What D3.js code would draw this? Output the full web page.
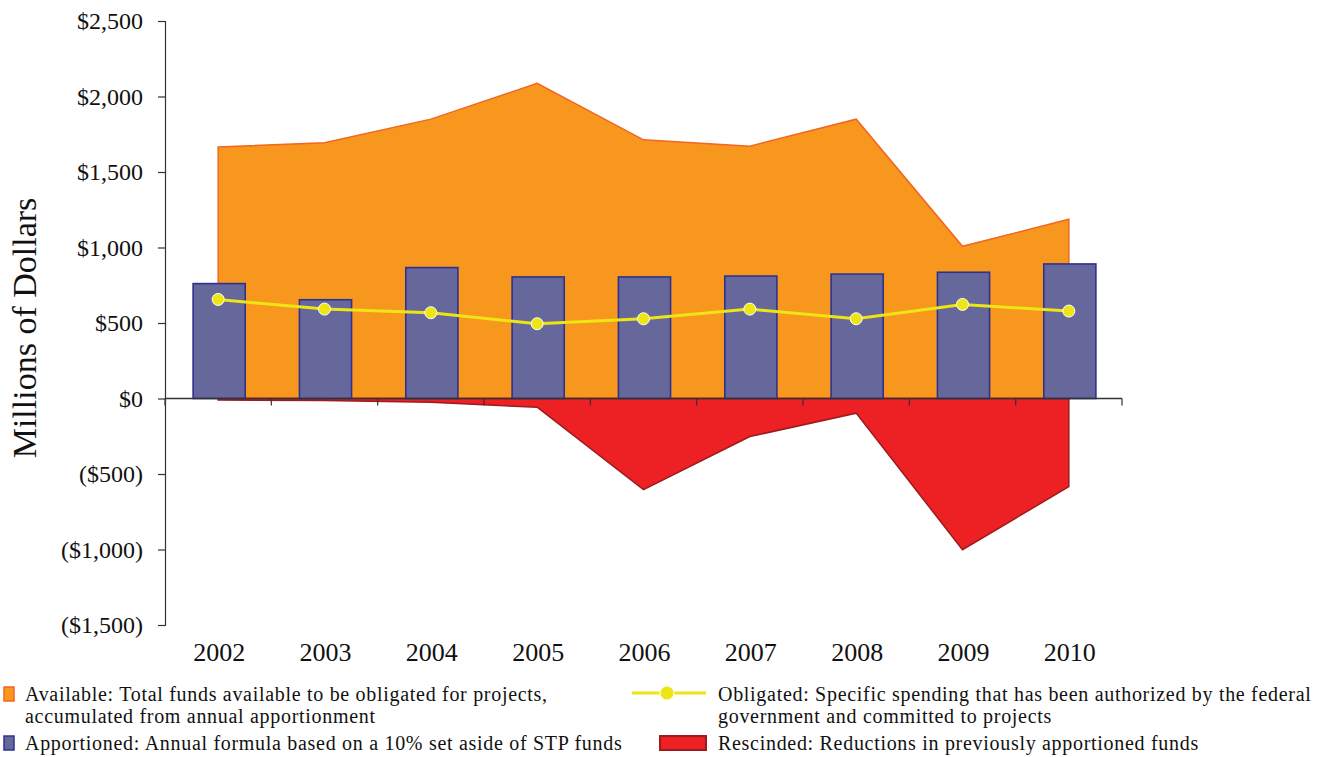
<!DOCTYPE html>
<html>
<head>
<meta charset="utf-8">
<script src="https://cdn.jsdelivr.net/npm/d3@7"></script>
<style>
  html, body { margin: 0; padding: 0; background: #fff; }
  svg { display: block; font-family: "Liberation Serif", "Times New Roman", serif; }
</style>
</head>
<body>
<svg id="chart" width="1322" height="757"></svg>
<script>
// Fiscal years on the category axis
const years = ["2002", "2003", "2004", "2005", "2006", "2007", "2008", "2009", "2010"];

// Millions of dollars per year
const available   = [1666, 1693, 1850, 2087, 1713, 1671, 1850, 1008, 1187];
const apportioned = [761, 654, 867, 805, 805, 811, 824, 836, 891];
const obligated   = [656, 592, 568, 495, 528, 592, 528, 623, 579];
const rescinded   = [-10, -14, -25, -58, -603, -252, -97, -1001, -584];

// Value axis ticks
const yTicks = [2500, 2000, 1500, 1000, 500, 0, -500, -1000, -1500];

// Legend entries
const legendItems = [
  { key: "available",   lines: ["Available: Total funds available to be obligated for projects,", "accumulated from annual apportionment"] },
  { key: "obligated",   lines: ["Obligated: Specific spending that has been authorized by the federal", "government and committed to projects"] },
  { key: "apportioned", lines: ["Apportioned: Annual formula based on a 10% set aside of STP funds"] },
  { key: "rescinded",   lines: ["Rescinded: Reductions in previously apportioned funds"] }
];

const colors = {
  available:  { fill: "#F7971E", stroke: "#F26522" },
  apportioned:{ fill: "#66689C", stroke: "#2E3192" },
  obligated:  { fill: "#EEE515", stroke: "#EEE515" },
  rescinded:  { fill: "#ED2024", stroke: "#9B1B1F" }
};

const svg = d3.select("#chart");

const plot = { left: 165, right: 1122, top: 21, bottom: 625 };

const x = d3.scaleBand().domain(years).range([plot.left, plot.right]).padding(0);
const y = d3.scaleLinear().domain([-1500, 2500]).range([plot.bottom, plot.top]);
const cx = d => x(d) + x.bandwidth() / 2;

const rows = years.map((yr, i) => ({
  year: yr,
  available: available[i],
  apportioned: apportioned[i],
  obligated: obligated[i],
  rescinded: rescinded[i]
}));

// Available funds area
const areaAvail = d3.area()
  .x(d => cx(d.year))
  .y0(y(0))
  .y1(d => y(d.available));
svg.append("path")
  .datum(rows)
  .attr("d", areaAvail)
  .attr("fill", colors.available.fill)
  .attr("stroke", colors.available.stroke)
  .attr("stroke-width", 1.5)
  .attr("stroke-linejoin", "miter");

// Rescinded funds area (below zero)
const areaResc = d3.area()
  .x(d => cx(d.year))
  .y0(y(0))
  .y1(d => y(d.rescinded));
svg.append("path")
  .datum(rows)
  .attr("d", areaResc)
  .attr("fill", colors.rescinded.fill)
  .attr("stroke", colors.rescinded.stroke)
  .attr("stroke-width", 1.5);

// Apportioned bars
const barW = x.bandwidth() * 0.49;
svg.append("g").selectAll("rect")
  .data(rows)
  .join("rect")
  .attr("x", d => cx(d.year) - barW / 2 + 1)
  .attr("y", d => y(d.apportioned))
  .attr("width", barW)
  .attr("height", d => y(0) - y(d.apportioned))
  .attr("fill", colors.apportioned.fill)
  .attr("stroke", colors.apportioned.stroke)
  .attr("stroke-width", 1.6);

// Axes
const yAxis = d3.axisLeft(y)
  .tickValues(yTicks)
  .tickSize(7)
  .tickFormat(v => v < 0 ? "(" + d3.format("$,")(-v) + ")" : d3.format("$,")(v));
const gy = svg.append("g")
  .attr("transform", `translate(${plot.left},0)`)
  .call(yAxis);
gy.select(".domain").attr("stroke", "#333").attr("stroke-width", 1.2);
gy.selectAll(".tick line").attr("stroke", "#333").attr("stroke-width", 1.2);
gy.selectAll(".tick text")
  .attr("x", -22)
  .attr("font-size", 24)
  .attr("fill", "#111")
  .attr("font-family", "Liberation Serif, serif");

// Category axis along the zero line, ticks on band boundaries
const gx = svg.append("g").attr("transform", `translate(0,${y(0)})`);
gx.append("line")
  .attr("x1", plot.left).attr("x2", plot.right)
  .attr("stroke", "#333").attr("stroke-width", 1.5);
const boundaries = years.map(d => x(d)).concat([plot.right]);
gx.selectAll("line.tk")
  .data(boundaries)
  .join("line")
  .attr("class", "tk")
  .attr("x1", d => d).attr("x2", d => d)
  .attr("y1", 0).attr("y2", 7)
  .attr("stroke", "#333").attr("stroke-width", 1.2);

// Year labels at the bottom of the plot
svg.append("g").selectAll("text")
  .data(years)
  .join("text")
  .attr("x", d => cx(d) + 1)
  .attr("y", 661)
  .attr("text-anchor", "middle")
  .attr("font-size", 26)
  .attr("fill", "#111")
  .text(d => d);

// Obligated line with markers
const line = d3.line().x(d => cx(d.year)).y(d => y(d.obligated));
svg.append("path")
  .datum(rows)
  .attr("d", line)
  .attr("fill", "none")
  .attr("stroke", colors.obligated.stroke)
  .attr("stroke-width", 3);
svg.append("g").selectAll("circle")
  .data(rows)
  .join("circle")
  .attr("cx", d => cx(d.year))
  .attr("cy", d => y(d.obligated))
  .attr("r", 6)
  .attr("fill", colors.obligated.fill)
  .attr("stroke", "#fff")
  .attr("stroke-width", 1);

// Axis title
svg.append("text")
  .attr("transform", "translate(36,328) rotate(-90)")
  .attr("text-anchor", "middle")
  .attr("font-size", 34)
  .attr("fill", "#111")
  .text("Millions of Dollars");

// Legend
const legendPos = {
  available:   { sx: 4,   sy: 701, tx: 25 },
  obligated:   { sx: 632, sy: 701, tx: 718 },
  apportioned: { sx: 4,   sy: 750, tx: 25 },
  rescinded:   { sx: 660, sy: 750, tx: 718 }
};
const lg = svg.append("g").attr("class", "legend");
legendItems.forEach(item => {
  const p = legendPos[item.key];
  const c = colors[item.key];
  if (item.key === "obligated") {
    lg.append("line")
      .attr("x1", p.sx).attr("x2", p.sx + 74)
      .attr("y1", p.sy - 8).attr("y2", p.sy - 8)
      .attr("stroke", c.stroke).attr("stroke-width", 3);
    lg.append("circle")
      .attr("cx", p.sx + 35).attr("cy", p.sy - 8).attr("r", 7)
      .attr("fill", c.fill).attr("stroke", "#fff").attr("stroke-width", 1);
  } else if (item.key === "rescinded") {
    lg.append("rect")
      .attr("x", p.sx).attr("y", p.sy - 14)
      .attr("width", 46).attr("height", 14)
      .attr("fill", c.fill).attr("stroke", c.stroke).attr("stroke-width", 2);
  } else {
    lg.append("rect")
      .attr("x", p.sx).attr("y", p.sy - 14)
      .attr("width", 10).attr("height", 14)
      .attr("fill", c.fill).attr("stroke", c.stroke).attr("stroke-width", 1.5);
  }
  const t = lg.append("text")
    .attr("x", p.tx).attr("y", p.sy)
    .attr("font-size", 20)
    .attr("letter-spacing", 0.7)
    .attr("fill", "#111");
  item.lines.forEach((ln, i) => {
    t.append("tspan").attr("x", p.tx).attr("dy", i === 0 ? 0 : 22).text(ln);
  });
});
</script>
</body>
</html>
